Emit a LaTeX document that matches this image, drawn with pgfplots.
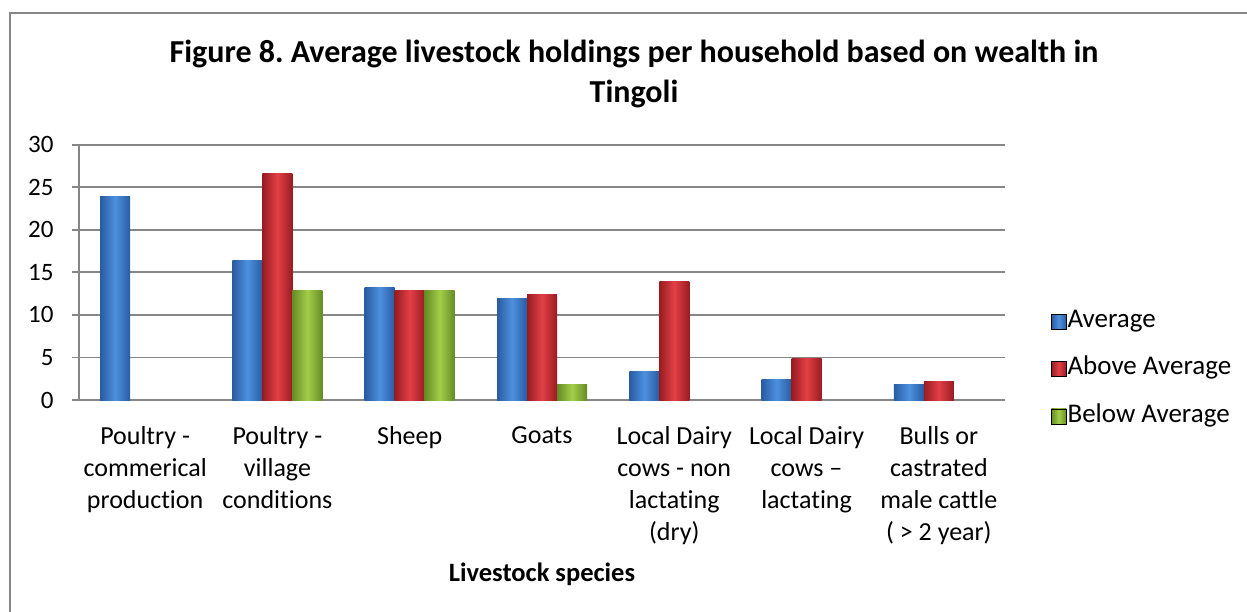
\documentclass[border=0pt]{standalone}
\usepackage{pgfplots}
\pgfplotsset{compat=1.18}
\usepackage{fontspec}
\setmainfont{Carlito}[Ligatures={TeX,NoCommon}]
\definecolor{bmid}{RGB}{78,144,222}
\definecolor{bedge}{RGB}{40,92,162}
\definecolor{rmid}{RGB}{226,64,70}
\definecolor{redge}{RGB}{152,28,34}
\definecolor{gmid}{RGB}{162,206,72}
\definecolor{gedge}{RGB}{100,140,38}
\definecolor{axgray}{RGB}{134,134,134}
\pgfplotsset{
  barbase/.style={ybar, bar width=30pt, draw=none, forget plot},
  sA/.style={barbase, left color=bedge, right color=bedge, middle color=bmid, bar shift=-30pt},
  sB/.style={barbase, left color=redge, right color=redge, middle color=rmid, bar shift=0pt},
  sC/.style={barbase, left color=gedge, right color=gedge, middle color=gmid, bar shift=30pt},
}
\begin{document}
\frenchspacing
\begin{tikzpicture}[x=1pt,y=1pt]
\useasboundingbox (0,0) rectangle (1247,611);
\fill[white] (0,0) rectangle (1247,611);
\draw[axgray, line width=1.8pt] (10,-2) -- (10,598) -- (1249,598);
\node[font=\fontsize{32}{40}\selectfont\bfseries, anchor=base] at (634,548) {Figure 8. Average livestock holdings per household based on wealth in};
\node[font=\fontsize{32}{40}\selectfont\bfseries, anchor=base] at (634,508) {Tingoli};
\node[font=\fontsize{26.5}{30}\selectfont\bfseries, anchor=base] at (542,30) {Livestock species};
\begin{axis}[
  at={(79pt,211pt)}, anchor=south west,
  width=926pt, height=255.3pt, scale only axis,
  xmin=-0.5, xmax=6.5, ymin=0, ymax=30,
  ytick={0,5,...,30},
  xtick={0,...,6},
  xticklabels={{Poultry -\\commerical\\production},{Poultry -\\village\\conditions},{Sheep},{Goats},{Local Dairy\\cows - non\\lactating\\(dry)},{Local Dairy\\cows –\\lactating},{Bulls or\\castrated\\male cattle\\( > 2 year)}},
  axis x line*=bottom, axis y line*=left,
  axis line style={axgray, line width=1.8pt},
  ymajorgrids, grid style={axgray, line width=1.8pt},
  y tick style={axgray, line width=1.8pt}, tick align=outside,
  major tick length=7pt,
  x tick style={draw=none},
  /pgf/number format/assume math mode=true,
  yticklabel style={font=\fontsize{25}{30}\selectfont, xshift=-15pt},
  xticklabel style={font=\fontsize{26}{32}\selectfont, align=center, anchor=north, yshift=-16pt},
  legend style={draw=none, fill=none, at={(1.0464,0.129)}, anchor=west, font=\fontsize{27}{30}\selectfont, row sep=25pt, nodes={inner sep=1pt, anchor=base west}},
  legend cell align=left,
  legend image code/.code={\path[#1] (0pt,-1.5pt) rectangle (15pt,13.5pt);},
]
\addlegendimage{left color=bedge, right color=bedge, middle color=bmid}
\addlegendentry{Average}
\addlegendimage{left color=redge, right color=redge, middle color=rmid}
\addlegendentry{Above Average}
\addlegendimage{left color=gedge, right color=gedge, middle color=gmid}
\addlegendentry{Below Average}
% Average
\addplot[sA] coordinates {(0,23.9)};
\addplot[sA] coordinates {(1,16.4)};
\addplot[sA] coordinates {(2,13.2)};
\addplot[sA] coordinates {(3,11.9)};
\addplot[sA] coordinates {(4,3.3)};
\addplot[sA] coordinates {(5,2.4)};
\addplot[sA] coordinates {(6,1.8)};
% Above Average
\addplot[sB] coordinates {(1,26.6)};
\addplot[sB] coordinates {(2,12.9)};
\addplot[sB] coordinates {(3,12.4)};
\addplot[sB] coordinates {(4,13.9)};
\addplot[sB] coordinates {(5,4.9)};
\addplot[sB] coordinates {(6,2.2)};
% Below Average
\addplot[sC] coordinates {(1,12.9)};
\addplot[sC] coordinates {(2,12.9)};
\addplot[sC] coordinates {(3,1.8)};
\end{axis}
\end{tikzpicture}
\end{document}
